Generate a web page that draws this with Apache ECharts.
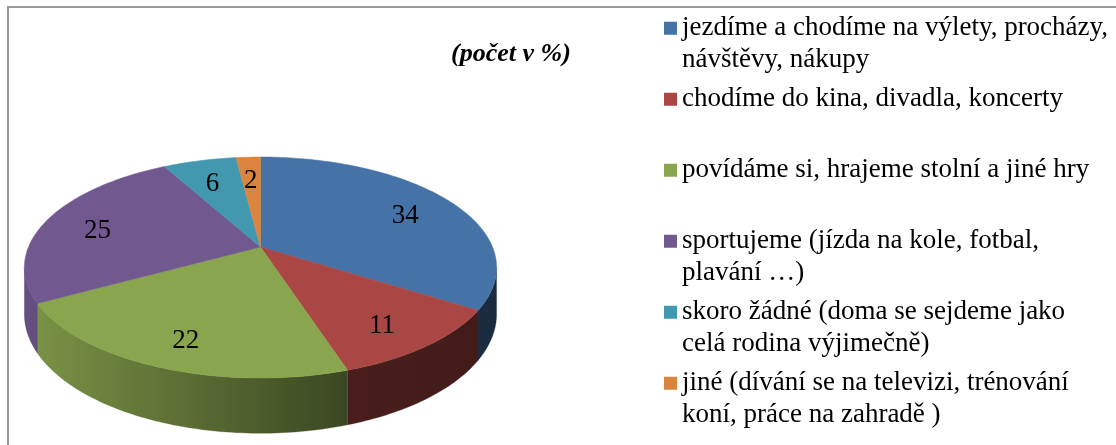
<!DOCTYPE html>
<html><head><meta charset="utf-8">
<script src="https://cdn.jsdelivr.net/npm/echarts@6/dist/echarts.min.js"></script>
<style>html,body{margin:0;padding:0;background:#fff}#c{width:1116px;height:445px}</style>
</head><body><div id="c"></div>
<script>
// ---- data ----
const categories = [
  'jezdíme a chodíme na výlety, procházy,\nnávštěvy, nákupy',
  'chodíme do kina, divadla, koncerty',
  'povídáme si, hrajeme stolní a jiné hry',
  'sportujeme (jízda na kole, fotbal,\nplavání …)',
  'skoro žádné (doma se sejdeme jako\ncelá rodina výjimečně)',
  'jiné (dívání se na televizi, trénování\nkoní, práce na zahradě )'
];
const values = [34, 11, 22, 25, 6, 2];
const titleText = '(počet v %)';

// ---- style ----
const colors = ['#4572A7', '#AA4643', '#89A54E', '#71588F', '#4198AF', '#DB843D'];
const FONT = 'Liberation Serif, Times New Roman, serif';
// perspective projection of the pie disc (layout constants)
const PIE = { cx: 260.5, cy: 247, a: 232, b: 106.7, k: 0.1855, h: 45, labelR: 0.76, labelDz: 0.13 };

const total = values.reduce((s, v) => s + v, 0);
const starts = [];
values.reduce((acc, v, i) => { starts[i] = acc; return acc + v; }, 0);

function proj(r, deg, dz) {
  const t = deg * Math.PI / 180;
  const u = r * Math.sin(t), v = -r * Math.cos(t);
  const w = 1 - PIE.k * v;
  return [PIE.cx + PIE.a * u / w, PIE.cy + (PIE.b * v + dz * PIE.h) / w];
}
function shade(hex, f) {
  const n = parseInt(hex.slice(1), 16);
  const r = Math.round(((n >> 16) & 255) * f), g = Math.round(((n >> 8) & 255) * f), b = Math.round((n & 255) * f);
  return 'rgb(' + r + ',' + g + ',' + b + ')';
}
// visible side wall: where the rim faces the viewer
const visA = Math.acos(-PIE.k) * 180 / Math.PI;
const visB = 360 - visA;

function arc(t0, t1, dz) {
  const pts = [];
  const n = Math.max(2, Math.ceil((t1 - t0) / 1));
  for (let j = 0; j <= n; j++) pts.push(proj(1, t0 + (t1 - t0) * j / n, dz));
  return pts;
}

function renderItem(params, api) {
  const i = params.dataIndex;
  const t0 = starts[i] / total * 360;
  const t1 = (starts[i] + values[i]) / total * 360;
  const col = colors[i % colors.length];
  const children = [];
  const w0 = Math.max(t0, visA), w1 = Math.min(t1, visB);
  if (w1 > w0) {
    const topRim = arc(w0, w1, 0);
    const botRim = arc(w0, w1, 1).reverse();
    children.push({
      type: 'polygon',
      shape: { points: topRim.concat(botRim) },
      style: {
        fill: { type: 'linear', x: 25, y: 0, x2: 500, y2: 0, global: true,
          colorStops: [{ offset: 0, color: shade(col, 0.9) }, { offset: 0.674, color: shade(col, 0.43) }, { offset: 1, color: shade(col, 0.38) }] },
        stroke: shade(col, 0.5), lineWidth: 0.3
      }
    });
  }
  const top = [proj(0, 0, 0)].concat(arc(t0, t1, 0));
  children.push({ type: 'polygon', shape: { points: top }, style: { fill: col, stroke: col, lineWidth: 0.5 } });
  const mid = (t0 + t1) / 2;
  const lp = proj(PIE.labelR, mid, PIE.labelDz);
  children.push({
    type: 'text', x: lp[0], y: lp[1], z2: 100,
    style: { text: String(api.value(0)), fontSize: 27, fontFamily: FONT, fill: '#000', align: 'center', verticalAlign: 'middle' }
  });
  return { type: 'group', children: children };
}

const chart = echarts.init(document.getElementById('c'), null, { renderer: 'canvas' });
chart.setOption({
  animation: false,
  color: colors,
  backgroundColor: '#fff',
  title: {
    text: titleText, left: 451, top: 41, padding: 0,
    textStyle: { fontFamily: FONT, fontStyle: 'italic', fontWeight: 'bold', fontSize: 26, color: '#000' }
  },
  legend: {
    data: categories,
    orient: 'vertical', left: 664, top: -19, padding: 0,
    itemWidth: 13, itemHeight: 13, itemGap: -23.5, icon: 'rect',
    formatter: n => ' \n' + n + (n.indexOf('\n') >= 0 ? '' : '\n '),
    textStyle: { fontFamily: FONT, fontSize: 27, lineHeight: 31.5, color: '#000' }
  },
  graphic: [{
    type: 'rect', shape: { x: 8, y: 7, width: 1300, height: 600 }, silent: true,
    style: { fill: 'none', stroke: '#9a9a9a', lineWidth: 2 }, z: -10
  }],
  series: [
    {
      type: 'custom', coordinateSystem: 'none', renderItem: renderItem,
      data: values.map(v => [v]), silent: true
    },
    {
      type: 'pie', center: [-300, -300], radius: 1, silent: true,
      label: { show: false }, labelLine: { show: false },
      data: categories.map((n, i) => ({ name: n, value: values[i] }))
    }
  ]
});
</script>
</body></html>
